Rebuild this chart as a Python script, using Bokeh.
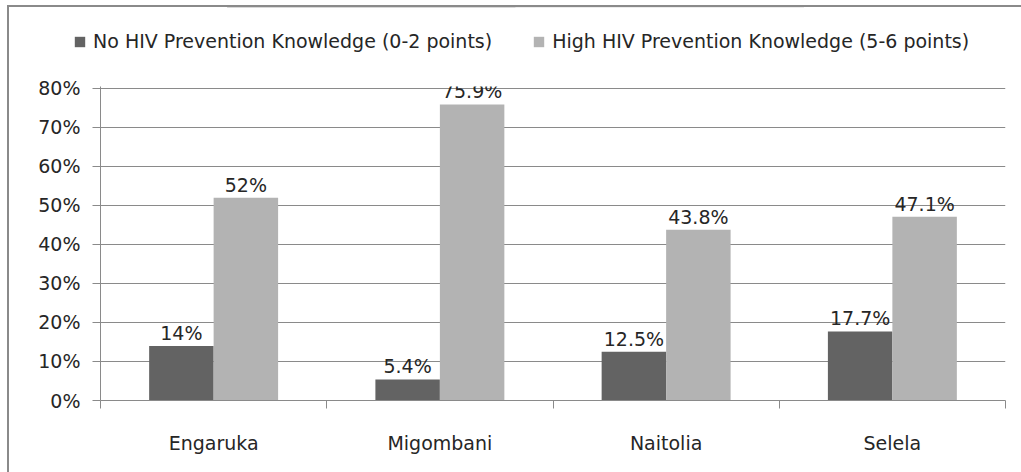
import numpy as np
from bokeh.plotting import figure
from bokeh.layouts import column
from bokeh.models import (ColumnDataSource, Range1d, FixedTicker, PrintfTickFormatter,
                          LabelSet, Legend, LegendItem)
from bokeh.core.properties import value
from bokeh.embed import file_html
from bokeh.resources import INLINE

categories = ["Engaruka", "Migombani", "Naitolia", "Selela"]
series_names = ["No HIV Prevention Knowledge (0-2 points)",
                "High HIV Prevention Knowledge (5-6 points)"]
no_knowledge = [14, 5.4, 12.5, 17.7]
high_knowledge = [52, 75.9, 43.8, 47.1]
y_ticks = [0, 10, 20, 30, 40, 50, 60, 70, 80]

FONT = "DejaVu Sans"
FS = "19px"
TXT = "#262626"
GRID = "#8a8a8a"
colors = ["#636363", "#b3b3b3"]
bar_w = 0.285

W = 1012
LEG_H = 60
MAIN_H = 465 - LEG_H

centers = np.arange(len(categories)) + 0.5
bounds = list(np.arange(len(categories) + 1).astype(float))

# ---- main chart ----
p = figure(width=W, height=MAIN_H, output_backend="svg", toolbar_location=None,
           x_range=Range1d(0, len(categories)), y_range=Range1d(0, 80.5),
           min_border_left=91, min_border_right=16, min_border_top=19, min_border_bottom=72)
p.outline_line_color = None
p.background_fill_color = "white"
p.border_fill_color = "white"

sources = []
for i, (vals, col) in enumerate(zip([no_knowledge, high_knowledge], colors)):
    xs = centers + (i - 0.5) * bar_w
    src = ColumnDataSource(dict(x=xs, top=vals, label=[f"{v:g}%" for v in vals]))
    sources.append(src)
    p.vbar(x="x", top="top", width=bar_w, bottom=0, source=src,
           fill_color=col, line_color=None)
    lbl = LabelSet(x="x", y="top", text="label", source=src, y_offset=2,
                   text_align="center", text_baseline="bottom",
                   text_font=value(FONT), text_font_size=FS, text_color=TXT)
    p.add_layout(lbl)

p.xgrid.grid_line_color = None
p.ygrid.grid_line_color = GRID
p.ygrid.grid_line_width = 1
p.ygrid.ticker = FixedTicker(ticks=y_ticks)

p.yaxis.ticker = FixedTicker(ticks=y_ticks)
p.yaxis.formatter = PrintfTickFormatter(format="%d%%")
p.yaxis.axis_line_color = GRID
p.yaxis.major_tick_line_color = GRID
p.yaxis.major_tick_in = 0
p.yaxis.major_tick_out = 8
p.yaxis.minor_tick_line_color = None
p.yaxis.major_label_standoff = 12
p.yaxis.major_label_text_font = FONT
p.yaxis.major_label_text_font_size = FS
p.yaxis.major_label_text_color = TXT

p.xaxis.ticker = FixedTicker(ticks=list(centers), minor_ticks=bounds)
p.xaxis.major_label_overrides = {float(c): n for c, n in zip(centers, categories)}
p.xaxis.axis_line_color = GRID
p.xaxis.major_tick_line_color = None
p.xaxis.major_tick_in = 0
p.xaxis.major_tick_out = 0
p.xaxis.minor_tick_line_color = GRID
p.xaxis.minor_tick_in = 0
p.xaxis.minor_tick_out = 8
p.xaxis.major_label_standoff = 23
p.xaxis.major_label_text_font = FONT
p.xaxis.major_label_text_font_size = FS
p.xaxis.major_label_text_color = TXT

# ---- legend strip ----
lg = figure(width=W, height=LEG_H, output_backend="svg", toolbar_location=None,
            x_range=Range1d(0, 1), y_range=Range1d(-2, -1),
            x_axis_type=None, y_axis_type=None,
            min_border_left=0, min_border_right=0, min_border_top=0, min_border_bottom=0)
lg.outline_line_color = None
lg.grid.grid_line_color = None
lg.background_fill_color = "white"
lg.border_fill_color = "white"
swatches = []
for name, col, src in zip(series_names, colors, sources):
    r = lg.vbar(x="x", top="top", width=bar_w, bottom=0, source=src,
                fill_color=col, line_color=None)
    swatches.append(LegendItem(label=name, renderers=[r], index=0))
legend = Legend(items=swatches, orientation="horizontal", location=(64, 15),
                glyph_width=13, glyph_height=13, label_standoff=7, spacing=40,
                padding=0, margin=0, border_line_color=None, background_fill_alpha=0,
                label_text_font=FONT, label_text_font_size=FS, label_text_color=TXT)
lg.add_layout(legend, "center")

for fig in (lg, p):
    try:
        fig.frame_align = False
    except Exception:
        pass

layout = column(lg, p, spacing=0)
layout.styles = {"border-top": "2px solid #8a8a8a", "border-left": "2px solid #8a8a8a",
                 "margin-left": "7px", "margin-top": "5px"}

open("out.html", "w").write(file_html(layout, INLINE))
